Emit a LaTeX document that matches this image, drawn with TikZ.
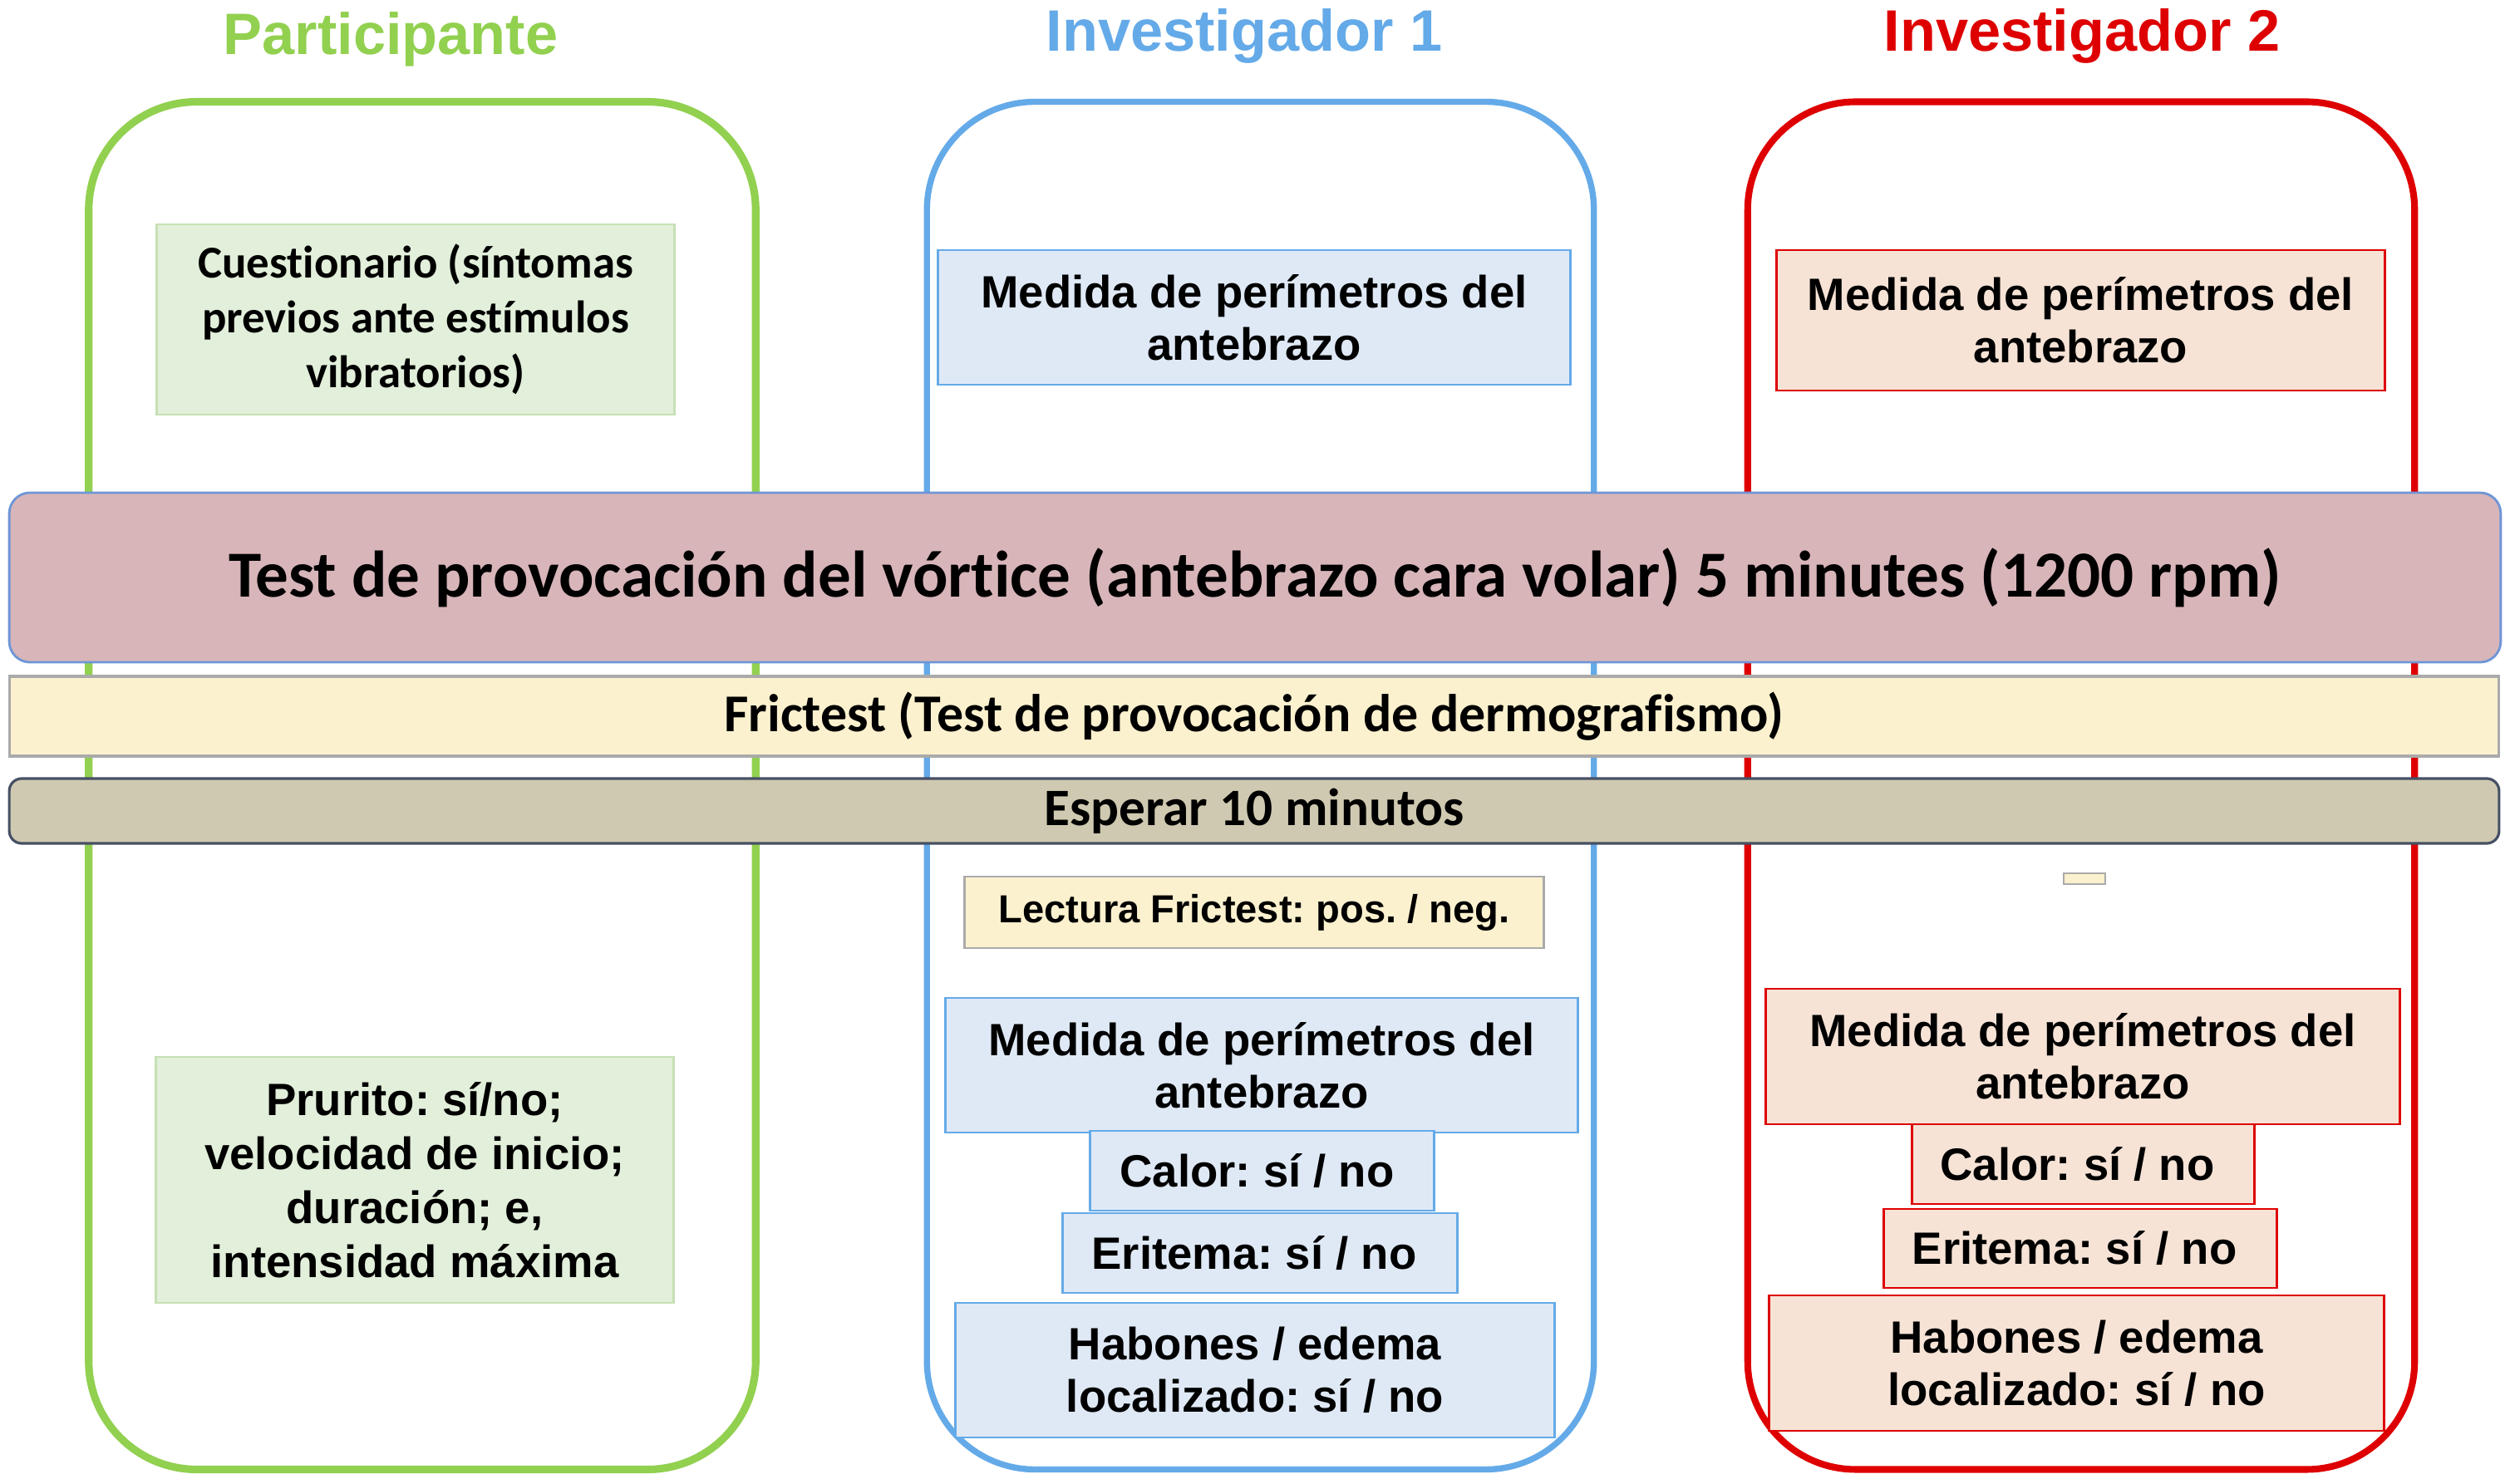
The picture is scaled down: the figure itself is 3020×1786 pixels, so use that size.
\documentclass[tikz,border=0pt]{standalone}
\usepackage{fontspec}
\setmainfont{Liberation Sans}
\newfontfamily\calib[Ligatures=NoCommon]{Carlito}
\frenchspacing
\definecolor{cgreen}{RGB}{146,208,80}
\definecolor{cblue}{RGB}{100,170,232}
\definecolor{cred}{RGB}{222,0,0}
\definecolor{fgreen}{RGB}{226,239,218}
\definecolor{bgreen}{RGB}{198,224,180}
\definecolor{fblue}{RGB}{223,233,246}
\definecolor{fred}{RGB}{246,227,214}
\definecolor{fyellow}{RGB}{252,241,206}
\definecolor{byellow}{RGB}{170,170,170}
\definecolor{fbanner}{RGB}{216,181,185}
\definecolor{bbanner}{RGB}{110,150,215}
\definecolor{fwait}{RGB}{207,201,177}
\definecolor{bwait}{RGB}{70,80,100}
\begin{document}
\begin{tikzpicture}[x=0.01cm,y=-0.01cm,
  lane/.style={draw, rounded corners=1.3cm, inner sep=0pt, minimum width=8.02cm, minimum height=16.45cm},
  title/.style={anchor=base, inner sep=0pt, font={\bfseries\fontsize{20pt}{22pt}\selectfont}},
  box/.style={draw, line width=0.8pt, inner sep=0pt, align=center, font={\bfseries\fontsize{15.5pt}{18pt}\selectfont}},
  gbox/.style={box, fill=fgreen, draw=bgreen},
  bbox/.style={box, fill=fblue, draw=cblue},
  rbox/.style={box, fill=fred, draw=cred},
  ybox/.style={box, fill=fyellow, draw=byellow, font={\bfseries\fontsize{13.4pt}{16pt}\selectfont}},
  bar/.style={inner sep=0pt, align=center, minimum width=29.94cm}
]
\useasboundingbox (0,0) rectangle (3020,1786);

% titles
\node[title, text=cgreen] (t1) at (470,66) {Participante};
\node[title, text=cblue] (t2) at (1497,62) {Investigador 1};
\node[title, text=cred] (t3) at (2505,62) {Investigador 2};

% lanes
\node[lane, draw=cgreen, line width=2.6pt] (l1) at (508,945.5) {};
\node[lane, draw=cblue, line width=2.1pt] (l2) at (1516.5,945.5) {};
\node[lane, draw=cred, line width=2.3pt] (l3) at (2504,945.5) {};

% participante
\node[gbox, minimum width=6.22cm, minimum height=2.29cm, font={\calib\bfseries\fontsize{15.6pt}{18.8pt}\selectfont}] (q1) at (500,384.5)
  {Cuestionario (síntomas\\previos ante estímulos\\vibratorios)};
\node[gbox, minimum width=6.22cm, minimum height=2.96cm, font={\bfseries\fontsize{15.5pt}{18.5pt}\selectfont}] (q2) at (499,1420)
  {Prurito: sí/no;\\velocidad de inicio;\\duración; e,\\intensidad máxima};

% investigador 1
\node[bbox, minimum width=7.60cm, minimum height=1.62cm] (b1) at (1509,382) {Medida de perímetros del\\antebrazo};
\node[ybox, minimum width=6.96cm, minimum height=0.86cm] (bl) at (1509,1098) {Lectura Frictest: pos. / neg.};
\node[bbox, minimum width=7.60cm, minimum height=1.62cm] (b2) at (1518,1282) {Medida de perímetros del\\antebrazo};
\node[bbox, minimum width=4.13cm, minimum height=0.96cm] (b3) at (1518.5,1409) {Calor: sí / no\hspace*{0.12cm}};
\node[bbox, minimum width=4.74cm, minimum height=0.96cm] (b4) at (1516,1508) {Eritema: sí / no\hspace*{0.14cm}};
\node[bbox, minimum width=7.20cm, minimum height=1.62cm] (b5) at (1510,1649) {Habones / edema\\localizado: sí / no};

% investigador 2
\node[rbox, minimum width=7.31cm, minimum height=1.69cm] (r1) at (2503.5,385.5) {Medida de perímetros del\\antebrazo};
\node[ybox, minimum width=0.50cm, minimum height=0.13cm] (ry) at (2508,1057.5) {};
\node[rbox, minimum width=7.62cm, minimum height=1.63cm] (r2) at (2506,1271.5) {Medida de perímetros del\\antebrazo};
\node[rbox, minimum width=4.11cm, minimum height=0.96cm] (r3) at (2506.5,1401) {Calor: sí / no\hspace*{0.14cm}};
\node[rbox, minimum width=4.72cm, minimum height=0.95cm] (r4) at (2503,1502.5) {Eritema: sí / no\hspace*{0.14cm}};
\node[rbox, minimum width=7.39cm, minimum height=1.63cm] (r5) at (2498.5,1640.5) {Habones / edema\\localizado: sí / no};

% bars
\node[bar, draw=bbanner, line width=0.8pt, fill=fbanner, rounded corners=0.25cm, minimum width=29.96cm, minimum height=2.04cm,
  font={\calib\bfseries\fontsize{22.5pt}{24pt}\selectfont}] (vt) at (1510,695)
  {Test de provocación del vórtice (antebrazo cara volar) 5 minutes (1200 rpm)};
\node[bar, draw=byellow, line width=0.9pt, fill=fyellow, minimum height=0.96cm,
  font={\calib\bfseries\fontsize{18.2pt}{20pt}\selectfont}] (ft) at (1509,862)
  {Frictest (Test de provocación de dermografismo)};
\node[bar, draw=bwait, line width=0.9pt, fill=fwait, rounded corners=0.15cm, minimum height=0.78cm,
  font={\calib\bfseries\fontsize{18pt}{20pt}\selectfont}] (wt) at (1509,976)
  {Esperar 10 minutos};
\end{tikzpicture}
\end{document}
